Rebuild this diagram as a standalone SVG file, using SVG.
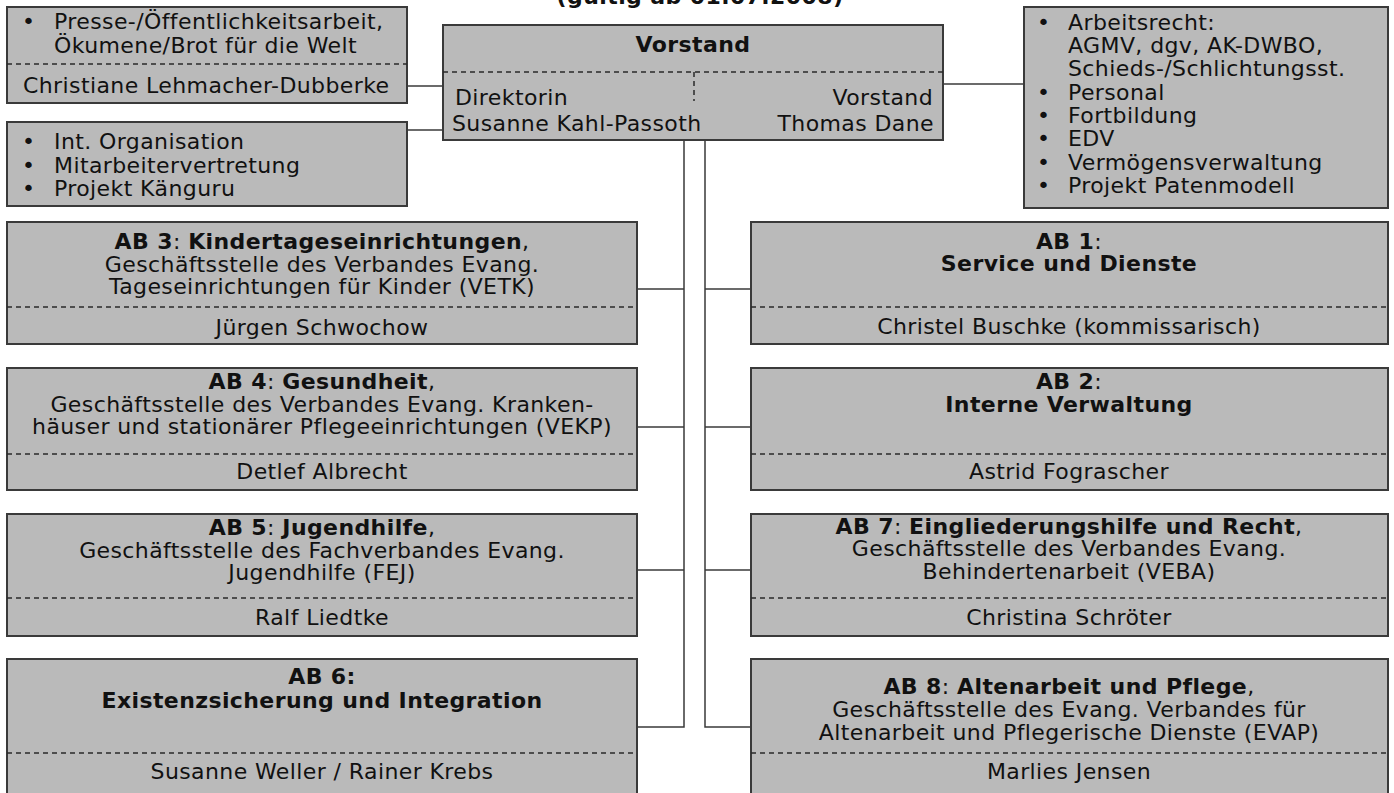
<svg xmlns="http://www.w3.org/2000/svg" width="1394" height="793" viewBox="0 0 1394 793">
<style>
.box{fill:#bababa;stroke:#3a3a3a;stroke-width:2}
.dash{stroke:#2a2a2a;stroke-width:1.5;stroke-dasharray:5 4;fill:none}
.con{stroke:#3a3a3a;stroke-width:1.5;fill:none}
text{font-family:"DejaVu Sans","Verdana",sans-serif;font-size:22px;letter-spacing:0.4px;fill:#111}
.c{text-anchor:middle}
.r{text-anchor:end}
.b{font-weight:bold}
</style>
<rect width="1394" height="793" fill="#fff"/>
<text class="c b" x="700" y="4">(gültig ab 01.07.2008)</text>

<g id="connectors">
<line class="con" x1="407" y1="86" x2="443" y2="86"/>
<line class="con" x1="407" y1="130" x2="443" y2="130"/>
<line class="con" x1="943" y1="84" x2="1024" y2="84"/>
<polyline class="con" points="684,140 684,727 637,727"/>
<polyline class="con" points="705,140 705,727 751,727"/>
<line class="con" x1="637" y1="289" x2="684" y2="289"/>
<line class="con" x1="637" y1="427" x2="684" y2="427"/>
<line class="con" x1="637" y1="570" x2="684" y2="570"/>
<line class="con" x1="705" y1="289" x2="751" y2="289"/>
<line class="con" x1="705" y1="427" x2="751" y2="427"/>
<line class="con" x1="705" y1="570" x2="751" y2="570"/>
</g>

<g id="presse">
<rect class="box" x="7" y="7" width="400" height="96"/>
<line class="dash" x1="7" y1="64" x2="407" y2="64"/>
<text x="22" y="29">•</text><text x="54" y="29">Presse-/Öffentlichkeitsarbeit,</text>
<text x="54" y="53">Ökumene/Brot für die Welt</text>
<text x="23" y="93">Christiane Lehmacher-Dubberke</text>
</g>

<g id="intorg">
<rect class="box" x="7" y="122" width="400" height="84"/>
<text x="22" y="149">•</text><text x="54" y="149">Int. Organisation</text>
<text x="22" y="173">•</text><text x="54" y="173">Mitarbeitervertretung</text>
<text x="22" y="196">•</text><text x="54" y="196">Projekt Känguru</text>
</g>

<g id="vorstand">
<rect class="box" x="443" y="25" width="500" height="115"/>
<text class="c b" x="693" y="52">Vorstand</text>
<line class="dash" x1="443" y1="72" x2="943" y2="72"/>
<line class="dash" x1="694" y1="72" x2="694" y2="101"/>
<text x="455" y="105">Direktorin</text>
<text x="452" y="131">Susanne Kahl-Passoth</text>
<text class="r" x="933" y="105">Vorstand</text>
<text class="r" x="934" y="131">Thomas Dane</text>
</g>

<g id="recht">
<rect class="box" x="1024" y="7" width="364" height="201"/>
<text x="1037" y="30">•</text><text x="1068" y="30">Arbeitsrecht:</text>
<text x="1068" y="53">AGMV, dgv, AK-DWBO,</text>
<text x="1068" y="76">Schieds-/Schlichtungsst.</text>
<text x="1037" y="100">•</text><text x="1068" y="100">Personal</text>
<text x="1037" y="123">•</text><text x="1068" y="123">Fortbildung</text>
<text x="1037" y="146">•</text><text x="1068" y="146">EDV</text>
<text x="1037" y="170">•</text><text x="1068" y="170">Vermögensverwaltung</text>
<text x="1037" y="193">•</text><text x="1068" y="193">Projekt Patenmodell</text>
</g>

<g id="ab3">
<rect class="box" x="7" y="222" width="630" height="122"/>
<text class="c" x="322" y="249"><tspan class="b">AB 3</tspan>: <tspan class="b">Kindertageseinrichtungen</tspan>,</text>
<text class="c" x="322" y="272">Geschäftsstelle des Verbandes Evang.</text>
<text class="c" x="322" y="294">Tageseinrichtungen für Kinder (VETK)</text>
<line class="dash" x1="7" y1="307" x2="637" y2="307"/>
<text class="c" x="322" y="335">Jürgen Schwochow</text>
</g>

<g id="ab4">
<rect class="box" x="7" y="368" width="630" height="122"/>
<text class="c" x="322" y="389"><tspan class="b">AB 4</tspan>: <tspan class="b">Gesundheit</tspan>,</text>
<text class="c" x="322" y="412">Geschäftsstelle des Verbandes Evang. Kranken-</text>
<text class="c" x="322" y="434">häuser und stationärer Pflegeeinrichtungen (VEKP)</text>
<line class="dash" x1="7" y1="454" x2="637" y2="454"/>
<text class="c" x="322" y="479">Detlef Albrecht</text>
</g>

<g id="ab5">
<rect class="box" x="7" y="514" width="630" height="122"/>
<text class="c" x="322" y="535"><tspan class="b">AB 5</tspan>: <tspan class="b">Jugendhilfe</tspan>,</text>
<text class="c" x="322" y="558">Geschäftsstelle des Fachverbandes Evang.</text>
<text class="c" x="322" y="580">Jugendhilfe (FEJ)</text>
<line class="dash" x1="7" y1="598" x2="637" y2="598"/>
<text class="c" x="322" y="625">Ralf Liedtke</text>
</g>

<g id="ab6">
<rect class="box" x="7" y="659" width="630" height="150"/>
<text class="c b" x="322" y="684">AB 6:</text>
<text class="c b" x="322" y="708">Existenzsicherung und Integration</text>
<line class="dash" x1="7" y1="753" x2="637" y2="753"/>
<text class="c" x="322" y="779">Susanne Weller / Rainer Krebs</text>
</g>

<g id="ab1">
<rect class="box" x="751" y="222" width="637" height="122"/>
<text class="c" x="1069" y="249"><tspan class="b">AB 1</tspan>:</text>
<text class="c b" x="1069" y="271">Service und Dienste</text>
<line class="dash" x1="751" y1="307" x2="1388" y2="307"/>
<text class="c" x="1069" y="334">Christel Buschke (kommissarisch)</text>
</g>

<g id="ab2">
<rect class="box" x="751" y="368" width="637" height="122"/>
<text class="c" x="1069" y="389"><tspan class="b">AB 2</tspan>:</text>
<text class="c b" x="1069" y="412">Interne Verwaltung</text>
<line class="dash" x1="751" y1="454" x2="1388" y2="454"/>
<text class="c" x="1069" y="479">Astrid Fograscher</text>
</g>

<g id="ab7">
<rect class="box" x="751" y="514" width="637" height="122"/>
<text class="c" x="1069" y="534"><tspan class="b">AB 7</tspan>: <tspan class="b">Eingliederungshilfe und Recht</tspan>,</text>
<text class="c" x="1069" y="556">Geschäftsstelle des Verbandes Evang.</text>
<text class="c" x="1069" y="579">Behindertenarbeit (VEBA)</text>
<line class="dash" x1="751" y1="598" x2="1388" y2="598"/>
<text class="c" x="1069" y="625">Christina Schröter</text>
</g>

<g id="ab8">
<rect class="box" x="751" y="659" width="637" height="150"/>
<text class="c" x="1069" y="694"><tspan class="b">AB 8</tspan>: <tspan class="b">Altenarbeit und Pflege</tspan>,</text>
<text class="c" x="1069" y="717">Geschäftsstelle des Evang. Verbandes für</text>
<text class="c" x="1069" y="740">Altenarbeit und Pflegerische Dienste (EVAP)</text>
<line class="dash" x1="751" y1="753" x2="1388" y2="753"/>
<text class="c" x="1069" y="779">Marlies Jensen</text>
</g>
</svg>
